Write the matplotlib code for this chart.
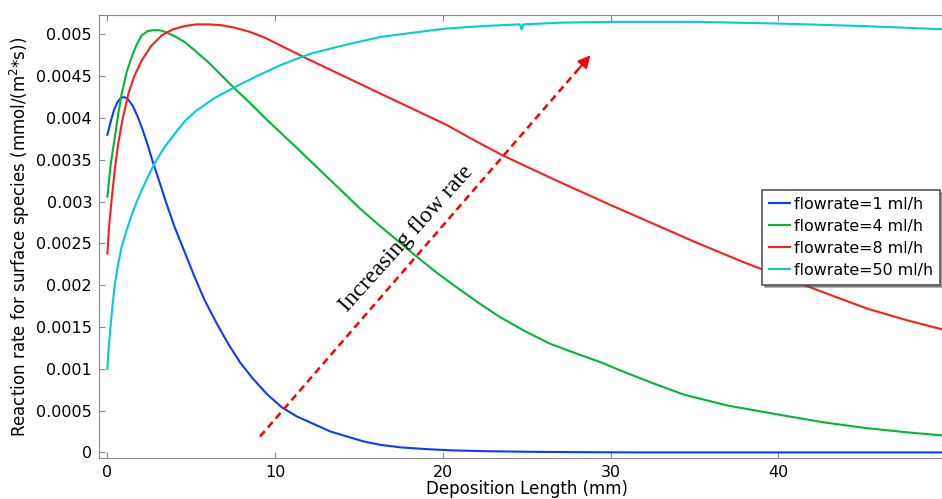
import numpy as np
import matplotlib.pyplot as plt
from matplotlib.ticker import FuncFormatter

# deposition length (mm) and reaction rate (mmol/(m^2*s)) per flow rate
x_1 = [0, 0.2, 0.4, 0.6, 0.8, 1.0, 1.2, 1.5, 1.8, 2.1, 2.4, 2.7, 3.0, 3.5, 4.0, 4.6, 5.2, 5.8,
       6.5, 7.2, 7.9, 8.6, 9.5, 10.4, 11.3, 12.3, 13.3, 14.3, 15.3, 16.3, 17.5, 19, 20.5, 22.5,
       25, 28, 32, 40, 50]
y_1 = [0.00380, 0.00396, 0.00410, 0.00419, 0.00424, 0.00425, 0.00423, 0.00415, 0.00402, 0.00386,
       0.00368, 0.00348, 0.00330, 0.00299, 0.00270, 0.00240, 0.00210, 0.00182, 0.00155, 0.00130,
       0.00108, 0.00090, 0.00070, 0.00054, 0.00043, 0.00034, 0.00025, 0.00019, 0.00013, 0.00009,
       0.00006, 0.00004, 0.000025, 0.000015, 0.000008, 0.000003, 0.0, 0.0, 0.0]

x_4 = [0, 0.2, 0.45, 0.65, 0.85, 1.15, 1.45, 1.75, 2.05, 2.4, 2.75, 3.1, 3.45, 4.0, 4.6, 5.2,
       6.0, 6.8, 7.6, 8.5, 9.4, 10.3, 11.2, 12.5, 13.8, 15.1, 16.3, 17.45, 18.45, 19.7, 21.0,
       22.2, 23.4, 24.9, 26.4, 28.0, 29.4, 30.6, 32.5, 34.4, 37, 40.1, 42.7, 45.3, 47.7, 50]
y_4 = [0.00306, 0.00345, 0.00378, 0.00405, 0.00429, 0.00455, 0.00473, 0.00488, 0.00499, 0.00504,
       0.00505, 0.00505, 0.00503, 0.00498, 0.00491, 0.00481, 0.00467, 0.00451, 0.00435, 0.00418,
       0.00400, 0.00383, 0.00366, 0.00341, 0.00316, 0.00291, 0.00270, 0.00251, 0.00234, 0.00214,
       0.00195, 0.00178, 0.00162, 0.00145, 0.00130, 0.00118, 0.00108, 0.00098, 0.00083, 0.00069,
       0.00056, 0.00045, 0.00036, 0.00029, 0.00024, 0.00020]

x_8 = [0, 0.1, 0.25, 0.45, 0.65, 0.9, 1.25, 1.6, 2.05, 2.6, 3.25, 3.9, 4.6, 5.3, 6.0, 6.8, 7.6,
       8.5, 9.4, 10.3, 11.9, 14.0, 16.3, 18.2, 20.2, 22.0, 23.6, 26.8, 30, 32.5, 35, 38, 41.3,
       43.3, 45.3, 47.7, 50]
y_8 = [0.00238, 0.00270, 0.00302, 0.00340, 0.00370, 0.00398, 0.00429, 0.00450, 0.00469, 0.00486,
       0.00499, 0.00506, 0.00510, 0.00512, 0.00512, 0.00511, 0.00508, 0.00503, 0.00496, 0.00487,
       0.00471, 0.00451, 0.00429, 0.00411, 0.00392, 0.00372, 0.00355, 0.00325, 0.00296, 0.00274,
       0.00252, 0.00227, 0.00202, 0.00187, 0.00172, 0.00158, 0.00146]

x_50 = [0, 0.05, 0.15, 0.3, 0.45, 0.65, 0.85, 1.15, 1.45, 1.75, 2.1, 2.5, 2.85, 3.4, 4.05, 4.6,
        5.25, 6.4, 7.6, 8.9, 10.3, 11.3, 12.3, 14.3, 16.3, 18.2, 20.2, 22.4, 24.6, 24.7, 24.8,
        27, 30, 35, 40, 45, 50]
y_50 = [0.00100, 0.00118, 0.00142, 0.00175, 0.00202, 0.00226, 0.00246, 0.00266, 0.00284, 0.00300,
        0.00316, 0.00333, 0.00347, 0.00365, 0.00382, 0.00396, 0.00408, 0.00424, 0.00437, 0.00450,
        0.00463, 0.00471, 0.00478, 0.00488, 0.00497, 0.00502, 0.00507, 0.00510, 0.00512, 0.00506,
        0.00512, 0.00514, 0.00515, 0.00515, 0.00513, 0.00510, 0.00506]

labels = ['flowrate=1 ml/h', 'flowrate=4 ml/h', 'flowrate=8 ml/h', 'flowrate=50 ml/h']
colors = ['#0a3cff', '#00b836', '#ff1c1c', '#00cfd2']

# arrow showing the trend, from/to in data units
arrow_start = (9.1, 0.00019)
arrow_end = (28.8, 0.00475)

fig = plt.figure(figsize=(9.42, 4.99), dpi=100)
ax = fig.add_axes([0.1051, 0.0816, 0.908, 0.888])

series = [(x_1, y_1), (x_4, y_4), (x_8, y_8), (x_50, y_50)]
for (xs, ys), lab, c in zip(series, labels, colors):
    ax.plot(xs, ys, color=c, lw=1.5, label=lab)

ax.set_xlim(-0.5, 50.5)
ax.set_ylim(-0.00007, 0.00523)
ax.set_xticks(np.arange(0, 41, 10))
ax.set_yticks(np.arange(0, 0.00501, 0.0005))
ax.yaxis.set_major_formatter(FuncFormatter(lambda v, p: '%g' % round(v, 6)))

for s in ax.spines.values():
    s.set_color('#8a8a8a')
ax.tick_params(direction='in', top=True, length=4, color='#8a8a8a', labelsize=11.5, pad=5)

ax.set_xlabel('Deposition Length (mm)', fontsize=12, labelpad=0)
ax.set_ylabel('Reaction rate for surface species (mmol/(m$^2$*s))', fontsize=12, labelpad=3)

# dashed trend arrow with a solid head
t = 0.965
mid = (arrow_start[0] + t * (arrow_end[0] - arrow_start[0]),
       arrow_start[1] + t * (arrow_end[1] - arrow_start[1]))
ax.plot([arrow_start[0], mid[0]], [arrow_start[1], mid[1]], color='red', lw=1.8,
        dashes=(2.9, 1.9))
ax.annotate('', xy=arrow_end, xytext=mid,
            arrowprops=dict(arrowstyle='-|>', color='red', lw=1.5, mutation_scale=18,
                            shrinkA=0, shrinkB=0))

ax.text(17.85, 0.00256, 'Increasing flow rate', family='Liberation Serif', fontsize=17,
        rotation=48, rotation_mode='anchor', ha='center', va='center')

leg = ax.legend(loc='upper left', bbox_to_anchor=(762 / 942, 1 - 190 / 499),
                bbox_transform=fig.transFigure, fontsize=11.4, fancybox=False,
                shadow=True, framealpha=1, edgecolor='#555555', handlelength=1.35,
                handletextpad=0.25, labelspacing=0.45, borderpad=0.42, borderaxespad=0)
leg.get_frame().set_linewidth(1.2)

fig.savefig('out.png', dpi=100)
